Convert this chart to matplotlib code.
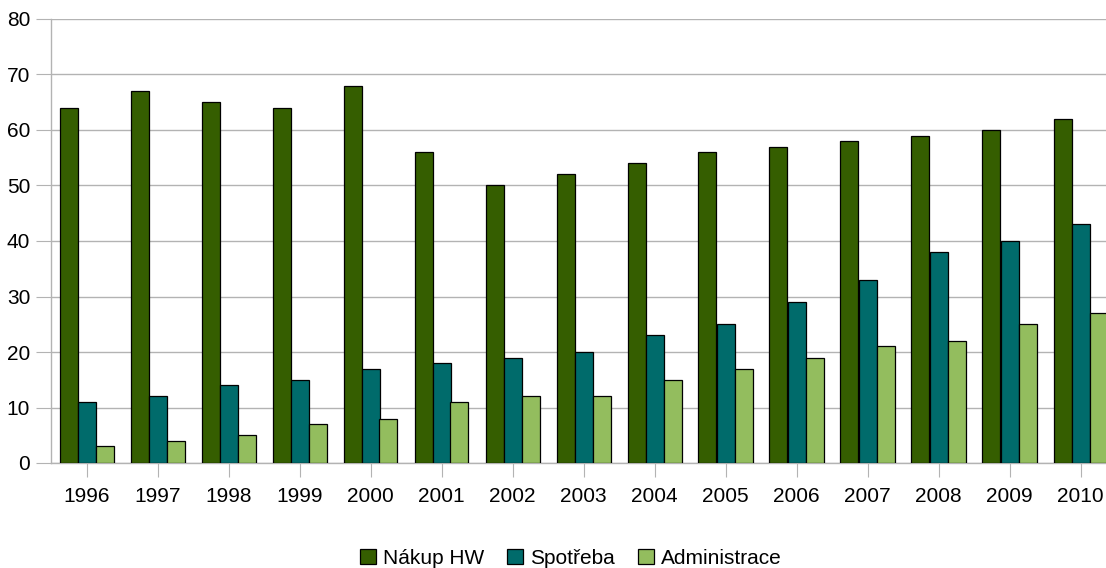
import matplotlib
matplotlib.use("Agg")
import matplotlib.pyplot as plt
import numpy as np

years = [str(y) for y in range(1996, 2011)]
nakup_hw = [64, 67, 65, 64, 68, 56, 50, 52, 54, 56, 57, 58, 59, 60, 62]
spotreba = [11, 12, 14, 15, 17, 18, 19, 20, 23, 25, 29, 33, 38, 40, 43]
administrace = [3, 4, 5, 7, 8, 11, 12, 12, 15, 17, 19, 21, 22, 25, 27]

series = [
    ("Nákup HW", nakup_hw, "#355e00"),
    ("Spotřeba", spotreba, "#006b6b"),
    ("Administrace", administrace, "#93bd5e"),
]

plt.rcParams["font.family"] = ["Liberation Sans", "DejaVu Sans"]

W, H = 1106, 568
fig = plt.figure(figsize=(W / 100, H / 100), dpi=100)
left, right, top, bottom = 51, 1116, 19, 463
ax = fig.add_axes([left / W, (H - bottom) / H, (right - left) / W, (bottom - top) / H])

x = np.arange(len(years))
bw = 18 / 71
for i, (name, vals, col) in enumerate(series):
    ax.bar(x + (i - 1) * bw, vals, bw, color=col, edgecolor="black",
           linewidth=0.9, label=name, zorder=3)

ax.set_xlim(-0.5, len(years) - 0.5)
ax.set_ylim(0, 80)
ax.set_yticks(range(0, 81, 10))
ax.set_xticks(x)
ax.set_xticklabels(years)
ax.grid(axis="y", color="#b3b3b3", linewidth=1, zorder=0)
for s in ["top", "right"]:
    ax.spines[s].set_visible(False)
for s in ["left", "bottom"]:
    ax.spines[s].set_color("#b3b3b3")
    ax.spines[s].set_linewidth(1)
ax.tick_params(axis="y", length=11, color="#b3b3b3", labelsize=15, pad=4)
ax.tick_params(axis="x", length=10, color="#b3b3b3", labelsize=15, pad=7)

fig.legend(loc="center", bbox_to_anchor=(571 / W, 1 - 558 / H), ncol=3,
           frameon=False, fontsize=15, handlelength=0.75, handleheight=0.75,
           handletextpad=0.35, columnspacing=1.1)

fig.savefig("out.png", dpi=100)
